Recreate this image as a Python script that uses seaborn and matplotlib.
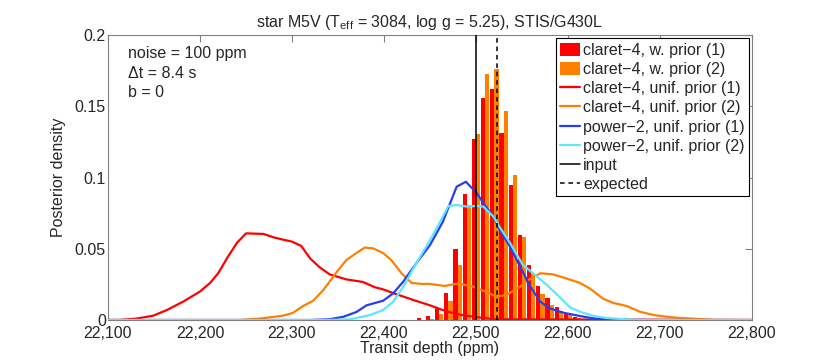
import numpy as np
import pandas as pd
import matplotlib
matplotlib.use("Agg")
import matplotlib.pyplot as plt
import seaborn as sns
from matplotlib.patches import Patch
from matplotlib.lines import Line2D

# ---------------- data ----------------
bin_centers = [22440, 22450, 22460, 22470, 22480, 22490, 22500, 22510, 22520, 22530,
               22540, 22550, 22560, 22570, 22580, 22590, 22600, 22610, 22620]
hist_red = [0.0014, 0.0028, 0.0084, 0.019, 0.0496, 0.0884, 0.1268, 0.156, 0.162, 0.131,
            0.095, 0.0596, 0.0384, 0.0239, 0.0154, 0.0094, 0.0052, 0.002, 0.001]
hist_orange = [0.0, 0.001, 0.004, 0.0135, 0.0384, 0.081, 0.1305, 0.1726, 0.176, 0.147,
               0.102, 0.0585, 0.0327, 0.0182, 0.0103, 0.0066, 0.0037, 0.0015, 0.0005]

red_x = [22100, 22113, 22131, 22149, 22164, 22182, 22200, 22211, 22220, 22229, 22240, 22250,
         22269, 22280, 22289, 22300, 22310, 22320, 22330, 22341, 22359, 22377, 22390, 22399,
         22414, 22432, 22450, 22468, 22486, 22501, 22520, 22800]
red_y = [0, 0, 0.001, 0.003, 0.007, 0.013, 0.020, 0.026, 0.033, 0.043, 0.054, 0.0608,
         0.0604, 0.058, 0.0566, 0.055, 0.052, 0.043, 0.037, 0.032, 0.0285, 0.0267, 0.023, 0.0215,
         0.018, 0.014, 0.0103, 0.006, 0.0033, 0.002, 0.0005, 0]

orange_x = [22100, 22243, 22265, 22290, 22301, 22312, 22323, 22334, 22349, 22359, 22370, 22379,
            22388, 22399, 22408, 22419, 22430, 22441, 22450, 22466, 22481, 22497, 22510, 22522,
            22533, 22548, 22559, 22570, 22584, 22599, 22613, 22624, 22638, 22649, 22664, 22678,
            22693, 22707, 22722, 22743, 22760, 22800]
orange_y = [0, 0, 0.001, 0.003, 0.005, 0.0098, 0.0135, 0.021, 0.034, 0.042, 0.047, 0.0508,
            0.0503, 0.047, 0.042, 0.0328, 0.026, 0.0253, 0.0253, 0.0239, 0.0257, 0.0234, 0.020, 0.0164,
            0.0175, 0.0234, 0.029, 0.0328, 0.032, 0.029, 0.026, 0.022, 0.015, 0.012, 0.0098, 0.0058,
            0.0035, 0.0023, 0.0014, 0.0007, 0, 0]

blue_x = [22100, 22320, 22341, 22356, 22370, 22381, 22399, 22410, 22421, 22435, 22450, 22464,
          22479, 22489, 22501, 22508, 22519, 22526, 22537, 22548, 22559, 22570, 22580, 22595,
          22613, 22627, 22642, 22660, 22800]
blue_y = [0, 0, 0.0005, 0.0023, 0.0056, 0.0103, 0.0135, 0.0187, 0.027, 0.0398, 0.0526, 0.069,
          0.0936, 0.097, 0.089, 0.082, 0.0725, 0.063, 0.0515, 0.0374, 0.0234, 0.0128, 0.0082, 0.0051,
          0.0028, 0.0012, 0.0005, 0, 0]

cyan_x = [22100, 22340, 22363, 22385, 22399, 22410, 22421, 22435, 22450, 22461, 22470, 22479,
          22490, 22501, 22508, 22519, 22526, 22537, 22551, 22562, 22577, 22591, 22602, 22613,
          22628, 22642, 22657, 22680, 22800]
cyan_y = [0, 0, 0.0005, 0.0035, 0.007, 0.0128, 0.0234, 0.0398, 0.056, 0.069, 0.080, 0.0807,
          0.0796, 0.080, 0.0796, 0.0725, 0.065, 0.054, 0.0386, 0.0328, 0.0246, 0.016, 0.0089, 0.0058,
          0.0028, 0.0014, 0.0007, 0, 0]

input_depth = 22500
expected_depth = 22523

labels = ["claret\u22124, w. prior (1)", "claret\u22124, w. prior (2)",
          "claret\u22124, unif. prior (1)", "claret\u22124, unif. prior (2)",
          "power\u22122, unif. prior (1)", "power\u22122, unif. prior (2)",
          "input", "expected"]
info_lines = ["noise = 100 ppm", "\u0394t = 8.4 s", "b = 0"]
x_ticks = [22100, 22200, 22300, 22400, 22500, 22600, 22700, 22800]
y_ticks = [0, 0.05, 0.1, 0.15, 0.2]
y_ticklabels = ["0", "0.05", "0.1", "0.15", "0.2"]

# ---------------- style ----------------
sns.set_style("white")
plt.rcParams["font.family"] = ["Liberation Sans", "DejaVu Sans"]
plt.rcParams["mathtext.fontset"] = "custom"
plt.rcParams["mathtext.rm"] = "Liberation Sans"
plt.rcParams["mathtext.it"] = "Liberation Sans:italic"
FS = 11.5

c_red = "#ff0000"
c_orange = "#ff8000"
c_blue = "#2a3cf0"
c_cyan = "#5ee6ff"
frame_c = "#808080"

fig = plt.figure(figsize=(8.30, 3.64), dpi=100)
ax = fig.add_axes([108 / 830, 1 - 320 / 364, (752 - 108) / 830, (320 - 35) / 364])

# histogram (grouped bars via dodge)
df = pd.DataFrame({
    "depth": bin_centers + bin_centers,
    "density": hist_red + hist_orange,
    "series": ["(1)"] * len(bin_centers) + ["(2)"] * len(bin_centers),
})
sns.histplot(data=df, x="depth", weights="density", hue="series", hue_order=["(1)", "(2)"],
             binwidth=10, binrange=(bin_centers[0] - 5, bin_centers[-1] + 5),
             multiple="dodge", shrink=0.93, palette=[c_red, c_orange],
             alpha=1, linewidth=0, legend=False, ax=ax, zorder=2)

for xs, ys, c in [(red_x, red_y, c_red), (orange_x, orange_y, c_orange),
                  (blue_x, blue_y, c_blue), (cyan_x, cyan_y, c_cyan)]:
    sns.lineplot(x=xs, y=ys, color=c, lw=1.6, ax=ax, estimator=None, sort=False, zorder=3)

ax.axvline(input_depth, color="black", lw=1.1, zorder=4)
ax.axvline(expected_depth, color="black", lw=1.1, ls=(0, (3, 2.5)), zorder=4)

ax.set_xlim(22100, 22800)
ax.set_ylim(0, 0.2)
ax.set_xticks(x_ticks)
ax.set_xticklabels([f"{v:,}" for v in x_ticks])
ax.set_yticks(y_ticks)
ax.set_yticklabels(y_ticklabels)
ax.tick_params(direction="in", length=4.7, width=0.8, color=frame_c, top=True, right=True,
               labelsize=FS)
ax.tick_params(axis="x", pad=4.6)
ax.tick_params(axis="y", pad=1.5)
for s in ax.spines.values():
    s.set_color(frame_c)
    s.set_linewidth(0.8)

ax.set_xlabel("Transit depth (ppm)", fontsize=FS, labelpad=0)
ax.set_ylabel("Posterior density", fontsize=FS, labelpad=6)
ax.set_title(r"star M5V (T$_{\rm eff}$ = 3084, log g = 5.25), STIS/G430L", fontsize=FS, pad=6)

for i, t in enumerate(info_lines):
    ax.text(0.031, 0.935 - i * 0.0684, t, transform=ax.transAxes, fontsize=FS, va="center", ha="left")

handles = [Patch(facecolor=c_red, edgecolor="none"), Patch(facecolor=c_orange, edgecolor="none"),
           Line2D([], [], color=c_red, lw=1.6), Line2D([], [], color=c_orange, lw=1.6),
           Line2D([], [], color=c_blue, lw=1.6), Line2D([], [], color=c_cyan, lw=1.6),
           Line2D([], [], color="black", lw=1.1), Line2D([], [], color="black", lw=1.1, ls=(0, (3, 2.5)))]
leg = ax.legend(handles, labels, loc="upper right", bbox_to_anchor=(0.9953, 0.988), fontsize=FS,
                frameon=True, fancybox=False, borderpad=0.28, labelspacing=0.26,
                handlelength=1.25, handleheight=0.85, handletextpad=0.18, borderaxespad=0.0,
                framealpha=1)
leg.get_frame().set_edgecolor("black")
leg.get_frame().set_linewidth(0.8)

fig.savefig("out.png", dpi=100)
